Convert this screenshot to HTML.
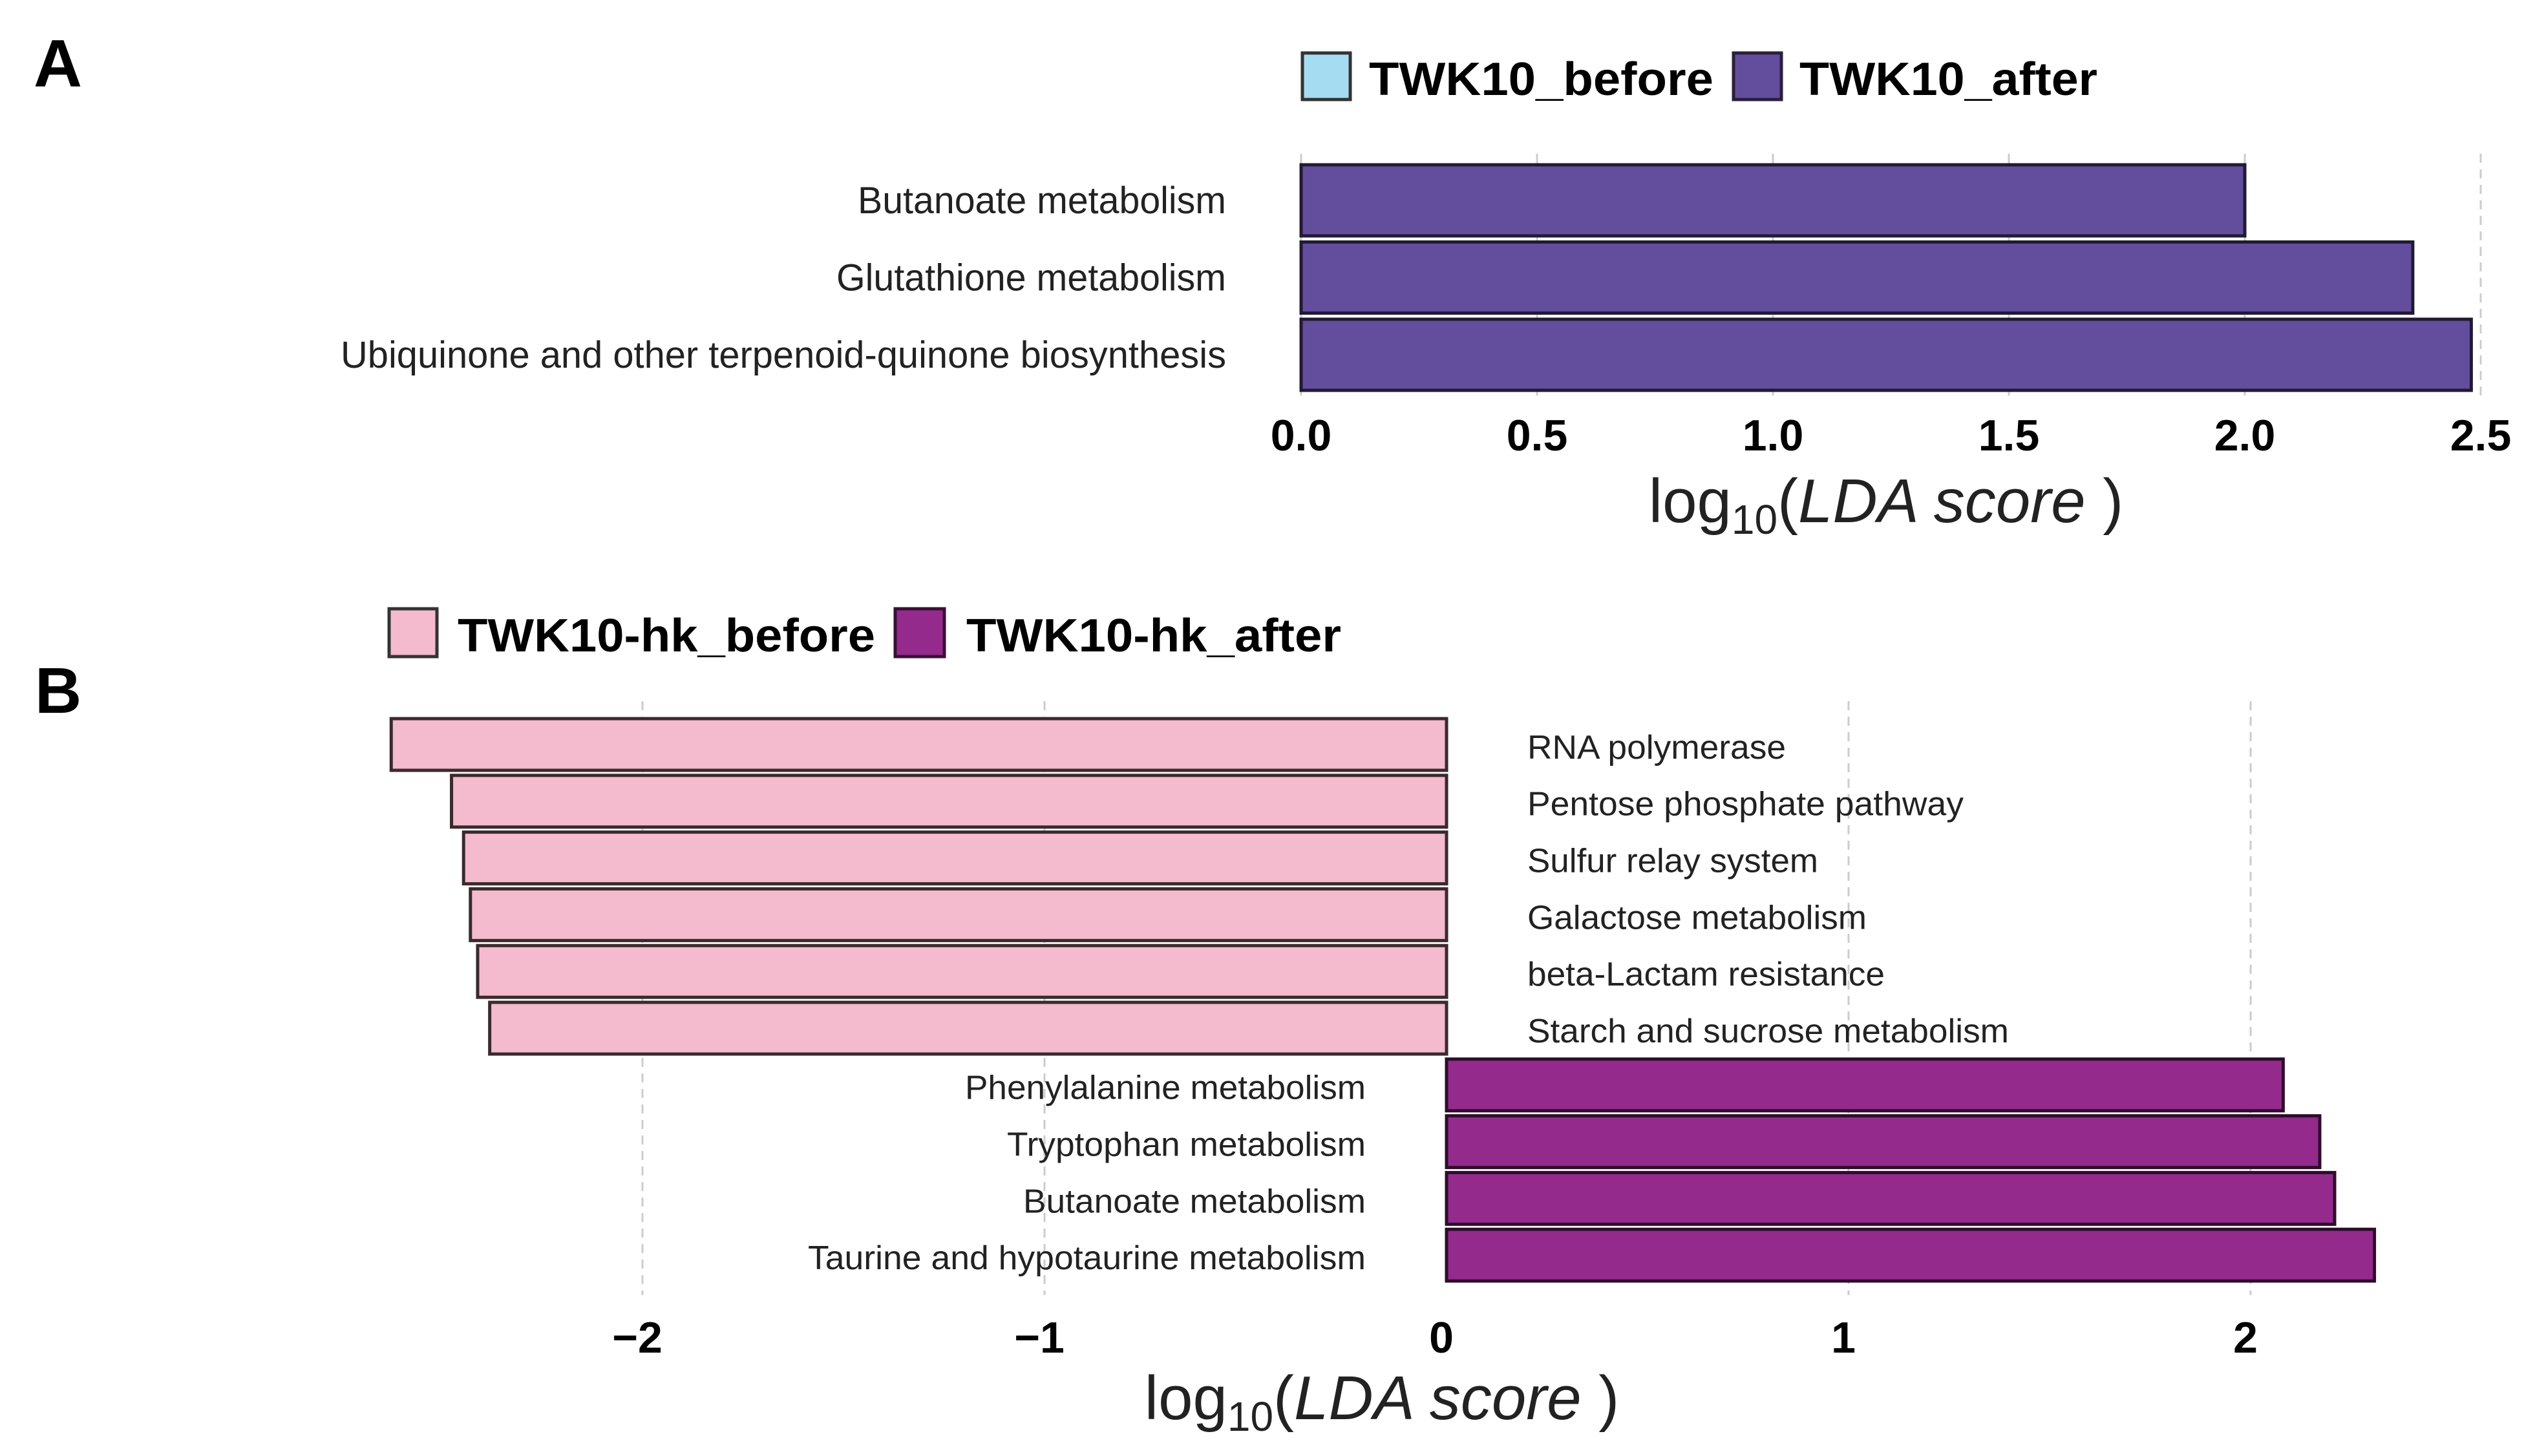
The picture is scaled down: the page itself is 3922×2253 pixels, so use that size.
<!DOCTYPE html>
<html><head><meta charset="utf-8"><style>
html,body{margin:0;padding:0;background:#fff;}
svg{display:block;font-family:"Liberation Sans",Arial,sans-serif;}
</style></head><body>
<svg id="fig" width="3922" height="2253" viewBox="0 0 3922 2253" xmlns="http://www.w3.org/2000/svg">
<rect width="3922" height="2253" fill="#fff"/>
<text x="52" y="134" font-size="104" font-weight="bold">A</text>
<text x="54" y="1103" font-size="100" font-weight="bold">B</text>
<g>
<rect x="2015" y="82" width="74" height="72" fill="#a6dcf2" stroke="#333" stroke-width="5"/>
<text x="2118" y="147" font-size="72" font-weight="bold" textLength="533" lengthAdjust="spacingAndGlyphs">TWK10_before</text>
<rect x="2682" y="82" width="74" height="72" fill="#634e9e" stroke="#2a1f3d" stroke-width="5"/>
<text x="2784" y="147" font-size="72" font-weight="bold" textLength="461" lengthAdjust="spacingAndGlyphs">TWK10_after</text>
</g>
<g>
<rect x="602" y="942" width="74" height="74" fill="#f4bacd" stroke="#333" stroke-width="5"/>
<text x="708" y="1008" font-size="72" font-weight="bold" textLength="646" lengthAdjust="spacingAndGlyphs">TWK10-hk_before</text>
<rect x="1385" y="942" width="76" height="74" fill="#942a8c" stroke="#3a1036" stroke-width="5"/>
<text x="1495" y="1008" font-size="72" font-weight="bold" textLength="580" lengthAdjust="spacingAndGlyphs">TWK10-hk_after</text>
</g>
<g id="chartA"></g>
<g id="chartB"></g>
</svg>
<script>
const catsA = ["Butanoate metabolism","Glutathione metabolism","Ubiquinone and other terpenoid-quinone biosynthesis"];
const valsA = [2.00, 2.356, 2.48];
const ticksA = [0,0.5,1.0,1.5,2.0,2.5];
const tickLabelsA = ["0.0","0.5","1.0","1.5","2.0","2.5"];
const labelWidthsA = [570,603,1370];

const catsB = ["RNA polymerase","Pentose phosphate pathway","Sulfur relay system","Galactose metabolism","beta-Lactam resistance","Starch and sucrose metabolism","Phenylalanine metabolism","Tryptophan metabolism","Butanoate metabolism","Taurine and hypotaurine metabolism"];
const valsB = [-2.625,-2.475,-2.445,-2.428,-2.41,-2.38,2.081,2.172,2.209,2.308];
const ticksB = [-2,-1,0,1,2];
const tickLabelsB = ["\u22122","\u22121","0","1","2"];
const labelWidthsB = [400,675,450,525,553,745,620,555,530,863];

const NS="http://www.w3.org/2000/svg";
function mk(parent,tag,attrs,txt){const e=document.createElementNS(NS,tag);for(const k in attrs)e.setAttribute(k,attrs[k]);if(txt!==undefined)e.textContent=txt;parent.appendChild(e);return e;}

// Chart A
(function(){
const g=document.getElementById('chartA');
const x=v=>2013+v*730;
const top=255, pitch=119.5, bh=110;
ticksA.forEach((t,i)=>{
 const l=mk(g,'line',{x1:x(t),x2:x(t),y1:238,y2:612,stroke:'#ccc','stroke-width':3,'stroke-dasharray':i===ticksA.length-1?'14,10':'none'});
 
 
 const tx=mk(g,'text',{x:x(t),y:697,'font-size':68,'font-weight':'bold','text-anchor':'middle'},tickLabelsA[i]);
 
 
});
catsA.forEach((c,i)=>{
 const y=top+i*pitch;
 const r=mk(g,'rect',{x:x(0),y:y,width:x(valsA[i])-x(0),height:bh,fill:'#634e9e',stroke:'#221a33','stroke-width':5});
 
 
 const t=mk(g,'text',{x:1897,y:y+bh/2+20,'font-size':58,'text-anchor':'end',fill:'#222',textLength:labelWidthsA[i],lengthAdjust:'spacingAndGlyphs'},c);
 
 
});
const tt=mk(g,'text',{x:2918,y:808,'font-size':96,'text-anchor':'middle',fill:'#222'});


mk(tt,'tspan',{},'log');mk(tt,'tspan',{'font-size':64,dy:18},'10');mk(tt,'tspan',{dy:-18},'(');mk(tt,'tspan',{'font-style':'italic'},'LDA score');mk(tt,'tspan',{},' )');
})();

// Chart B
(function(){
const g=document.getElementById('chartB');
const x=v=>2238+v*622;
const top=1110, pitch=87.8, bh=80;
ticksB.forEach((t,i)=>{
 if(t!==0){
 const l=mk(g,'line',{x1:x(t),x2:x(t),y1:1085,y2:2004,stroke:'#ccc','stroke-width':3,'stroke-dasharray':'14,10'});
 
 }
 const tx=mk(g,'text',{x:x(t)-8,y:2093,'font-size':68,'font-weight':'bold','text-anchor':'middle'},tickLabelsB[i]);
 
 
});
catsB.forEach((c,i)=>{
 const y=top+i*pitch, v=valsB[i];
 const x0=Math.min(x(0),x(v)), w=Math.abs(x(v)-x(0));
 const r=mk(g,'rect',{x:x0,y:y+2,width:w,height:bh,fill:v<0?'#f4bacd':'#942a8c',stroke:v<0?'#3a2a2e':'#2e0d2b','stroke-width':5});
 
 
 const neg=v<0;
 const t=mk(g,'text',{x:neg?2363:2113,y:y+pitch/2+20,'font-size':52,'text-anchor':neg?'start':'end',fill:'#222',textLength:labelWidthsB[i],lengthAdjust:'spacingAndGlyphs'},c);
 
 
});
const tt=mk(g,'text',{x:2138,y:2196,'font-size':96,'text-anchor':'middle',fill:'#222'});


mk(tt,'tspan',{},'log');mk(tt,'tspan',{'font-size':64,dy:18},'10');mk(tt,'tspan',{dy:-18},'(');mk(tt,'tspan',{'font-style':'italic'},'LDA score');mk(tt,'tspan',{},' )');
})();
</script>
</body></html>
